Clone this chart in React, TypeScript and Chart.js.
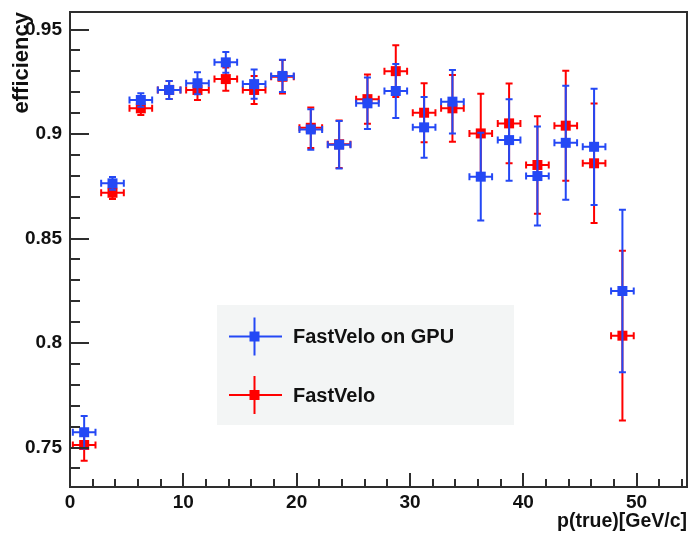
import React, { useEffect, useRef } from "react";
import { Chart, registerables } from "chart.js";

Chart.register(...registerables);

// ---- data ----
const xCenters = [1.25, 3.75, 6.25, 8.75, 11.25, 13.75, 16.25, 18.75, 21.25, 23.75, 26.25, 28.75, 31.25, 33.75, 36.25, 38.75, 41.25, 43.75, 46.25, 48.75];
const X_ERR = 1.0;

const gpuEff = [0.7573, 0.8764, 0.9163, 0.9211, 0.9243, 0.9343, 0.9239, 0.9278, 0.9022, 0.8949, 0.9147, 0.9206, 0.9032, 0.9155, 0.8796, 0.8971, 0.8799, 0.8958, 0.8939, 0.8249];
const gpuErr = [0.0078, 0.003, 0.0032, 0.0043, 0.0053, 0.005, 0.007, 0.0077, 0.0097, 0.0114, 0.0123, 0.0129, 0.0145, 0.0152, 0.021, 0.0195, 0.0237, 0.0273, 0.0278, 0.0389];

const cpuEff = [0.7512, 0.8719, 0.9123, 0.9211, 0.9211, 0.9263, 0.9211, 0.9274, 0.903, 0.8951, 0.9167, 0.9301, 0.9102, 0.9123, 0.9003, 0.9051, 0.8852, 0.904, 0.886, 0.8035];
const cpuErr = [0.0075, 0.003, 0.0032, 0.0043, 0.0048, 0.0056, 0.0067, 0.008, 0.0097, 0.0114, 0.0118, 0.0124, 0.0141, 0.016, 0.019, 0.0191, 0.0233, 0.0263, 0.0286, 0.0406];

const seriesNames = ["FastVelo on GPU", "FastVelo"];
const seriesColors = ["#2448f5", "#ff0000"];

const xTicks = [0, 10, 20, 30, 40, 50];
const yTicks = [0.75, 0.8, 0.85, 0.9, 0.95];
const yTickLabels = ["0.75", "0.8", "0.85", "0.9", "0.95"];
const X_MIN = 0;
const X_MAX = 54.45;
const Y_MIN = 0.7311;
const Y_MAX = 0.9584;

const xTitle = "p(true)[GeV/c]";
const yTitle = "efficiency";

const FONT = "'Liberation Sans', Arial, Helvetica, sans-serif";
const FRAME = "#2e2e2e";

const errorBarPlugin = {
  id: "errorBars",
  beforeDatasetDraw(chart: any, args: any) {
    const ds: any = chart.data.datasets[args.index];
    const errs: number[] = ds.yErrors;
    if (!errs) return;
    const xs = chart.scales.x;
    const ys = chart.scales.y;
    const ctx = chart.ctx;
    const area = chart.chartArea;
    ctx.save();
    ctx.beginPath();
    ctx.rect(area.left, area.top, area.right - area.left, area.bottom - area.top);
    ctx.clip();
    ctx.strokeStyle = ds.backgroundColor;
    ctx.lineWidth = 2;
    const cap = 3.5;
    ds.data.forEach((p: any, i: number) => {
      const px = xs.getPixelForValue(p.x);
      const py = ys.getPixelForValue(p.y);
      const xl = xs.getPixelForValue(p.x - X_ERR);
      const xr = xs.getPixelForValue(p.x + X_ERR);
      const yt = ys.getPixelForValue(p.y + errs[i]);
      const yb = ys.getPixelForValue(p.y - errs[i]);
      ctx.beginPath();
      ctx.moveTo(xl, py);
      ctx.lineTo(xr, py);
      ctx.moveTo(px, yt);
      ctx.lineTo(px, yb);
      ctx.moveTo(xl, py - cap);
      ctx.lineTo(xl, py + cap);
      ctx.moveTo(xr, py - cap);
      ctx.lineTo(xr, py + cap);
      ctx.moveTo(px - cap, yt);
      ctx.lineTo(px + cap, yt);
      ctx.moveTo(px - cap, yb);
      ctx.lineTo(px + cap, yb);
      ctx.stroke();
    });
    ctx.restore();
  },
};

const framePlugin = {
  id: "rootFrame",
  afterDraw(chart: any) {
    const ctx = chart.ctx;
    const a = chart.chartArea;
    const xs = chart.scales.x;
    const ys = chart.scales.y;
    ctx.save();
    ctx.strokeStyle = FRAME;
    ctx.lineWidth = 2;
    ctx.strokeRect(a.left, a.top, a.right - a.left, a.bottom - a.top);
    ctx.beginPath();
    for (let v = Math.ceil(xs.min); v <= xs.max; v += 2) {
      const px = Math.round(xs.getPixelForValue(v));
      const len = v % 10 === 0 ? 14 : 8;
      ctx.moveTo(px, a.bottom);
      ctx.lineTo(px, a.bottom - len);
    }
    for (let k = Math.ceil(ys.min * 100); k <= Math.floor(ys.max * 100); k++) {
      const py = Math.round(ys.getPixelForValue(k / 100));
      const len = k % 5 === 0 ? 19 : 10;
      ctx.moveTo(a.left, py);
      ctx.lineTo(a.left + len, py);
    }
    ctx.stroke();

    // legend
    const bx = 217, by = 305, bw = 297, bh = 120;
    ctx.fillStyle = "#f3f5f5";
    ctx.fillRect(bx, by, bw, bh);
    const rows = [336.5, 395];
    rows.forEach((ry, i) => {
      const c = seriesColors[i];
      const mx = 254.5;
      ctx.strokeStyle = c;
      ctx.lineWidth = 2;
      ctx.beginPath();
      ctx.moveTo(229, ry);
      ctx.lineTo(282, ry);
      ctx.moveTo(mx, ry - 19);
      ctx.lineTo(mx, ry + 19);
      ctx.stroke();
      ctx.fillStyle = c;
      ctx.fillRect(mx - 5, ry - 5, 10, 10);
      ctx.fillStyle = "#111";
      ctx.font = `bold 20px ${FONT}`;
      ctx.textBaseline = "middle";
      ctx.textAlign = "left";
      ctx.fillText(seriesNames[i], 293, ry + 1);
    });
    ctx.restore();
  },
};

export default function App() {
  const ref = useRef<HTMLCanvasElement | null>(null);
  useEffect(() => {
    if (!ref.current) return;
    const mk = (vals: number[]) => vals.map((v, i) => ({ x: xCenters[i], y: v }));
    const chart = new Chart(ref.current, {
      type: "scatter",
      data: {
        datasets: [
          {
            label: seriesNames[0],
            data: mk(gpuEff),
            yErrors: gpuErr,
            backgroundColor: seriesColors[0],
            borderColor: seriesColors[0],
            borderWidth: 0,
            pointStyle: "rect",
            pointRadius: 7.07,
            pointHoverRadius: 7.07,
          } as any,
          {
            label: seriesNames[1],
            data: mk(cpuEff),
            yErrors: cpuErr,
            backgroundColor: seriesColors[1],
            borderColor: seriesColors[1],
            borderWidth: 0,
            pointStyle: "rect",
            pointRadius: 7.07,
            pointHoverRadius: 7.07,
          } as any,
        ],
      },
      options: {
        animation: false,
        responsive: false,
        events: [],
        layout: { autoPadding: false, padding: { top: 12, right: 5, left: 0, bottom: 0 } },
        plugins: { legend: { display: false }, tooltip: { enabled: false } },
        scales: {
          x: {
            type: "linear",
            min: X_MIN,
            max: X_MAX,
            grid: { display: false, drawTicks: false },
            border: { display: false },
            afterBuildTicks: (s: any) => {
              s.ticks = xTicks.map((v) => ({ value: v }));
            },
            afterFit: (s: any) => {
              s.height = 49;
              s.paddingLeft = 0;
              s.paddingRight = 0;
            },
            ticks: {
              color: "#111",
              padding: 4,
              maxRotation: 0,
              font: { family: FONT, size: 19, weight: "bold" },
              callback: (v: any) => String(v),
            },
            title: {
              display: true,
              text: xTitle,
              align: "end",
              color: "#111",
              font: { family: FONT, size: 19.5, weight: "bold" },
              padding: { top: 0, bottom: 3 },
            },
          },
          y: {
            type: "linear",
            min: Y_MIN,
            max: Y_MAX,
            grid: { display: false, drawTicks: false },
            border: { display: false },
            afterBuildTicks: (s: any) => {
              s.ticks = yTicks.map((v) => ({ value: v }));
            },
            afterFit: (s: any) => {
              s.width = 70;
              s.paddingTop = 0;
              s.paddingBottom = 0;
            },
            ticks: {
              color: "#111",
              padding: 8,
              font: { family: FONT, size: 19, weight: "bold" },
              callback: (v: any) => {
                const i = yTicks.findIndex((t) => Math.abs(t - v) < 1e-6);
                return i >= 0 ? yTickLabels[i] : "";
              },
            },
            title: {
              display: true,
              text: yTitle,
              align: "end",
              color: "#111",
              font: { family: FONT, size: 22, weight: "bold" },
              padding: { top: 9, bottom: 0 },
            },
          },
        },
      },
      plugins: [errorBarPlugin, framePlugin],
    } as any);
    return () => chart.destroy();
  }, []);
  return (
    <div style={{ position: "absolute", left: 0, top: 0, width: 692, height: 536, background: "#fff" }}>
      <canvas ref={ref} width={692} height={536} style={{ display: "block" }} />
    </div>
  );
}
